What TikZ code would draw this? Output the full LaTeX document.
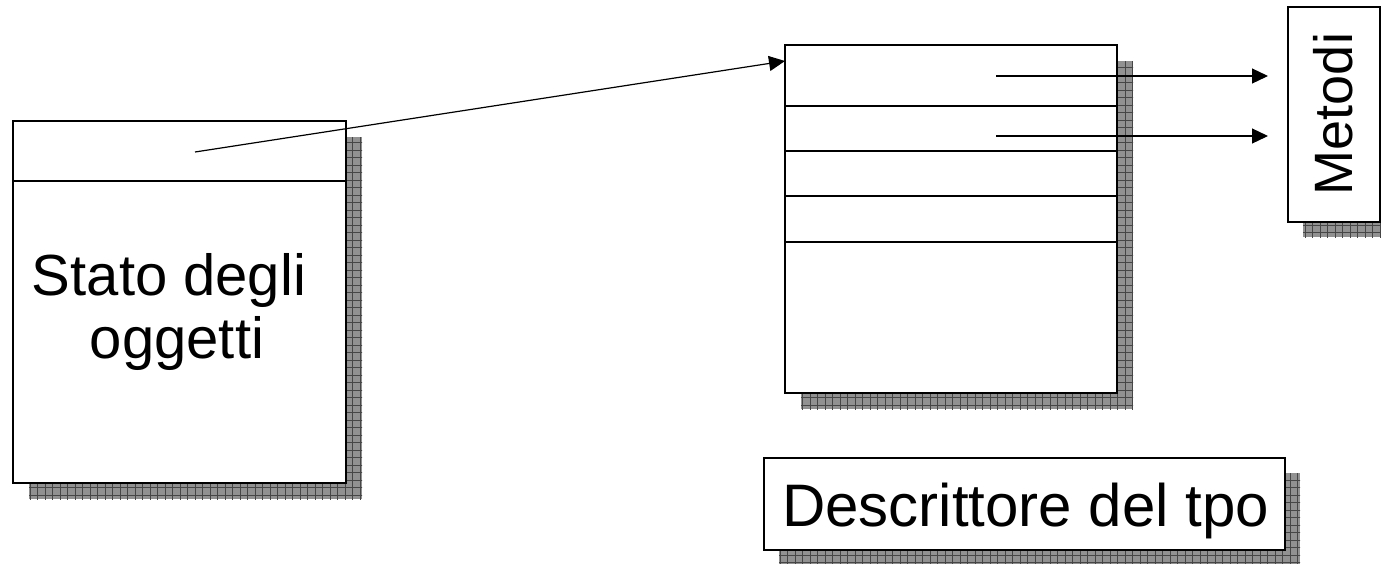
\documentclass[tikz,border=0pt]{standalone}
\usepackage{fontspec}
\setmainfont{Liberation Sans}
\usetikzlibrary{arrows.meta,backgrounds,calc}

\tikzset{
  box/.style={draw=black, line width=1.3pt, fill=white, inner sep=0pt, outer sep=0pt},
  sep/.style={draw=black, line width=1.2pt},
  link/.style={draw=black, line width=1.2pt, -{Triangle[length=16pt,width=15pt]}},
  lbl/.style={inner sep=0pt, anchor=base},
  shadowfill/.style={fill={rgb,255:red,145;green,145;blue,145}},
  shadowgrid/.style={draw={rgb,255:red,70;green,70;blue,70}, line width=1pt},
}

% gridded drop shadow behind a node
\newcommand\dropgrid[2][16]{%
  \begin{scope}[on background layer]
    \path (#2.north west) ++(#1,#1) coordinate (sa)
          (#2.south east) ++(#1,#1) coordinate (sb);
    \begin{scope}
      \clip (sa) rectangle (sb);
      \fill[shadowfill] (sa) rectangle (sb);
      \draw[shadowgrid, step=7.5pt] ($(sa)+(-8,-8)$) grid ($(sb)+(8,8)$);
    \end{scope}
  \end{scope}}

\begin{document}
\begin{tikzpicture}[x=1pt, y=-1pt]
  \useasboundingbox (0,0) rectangle (1381,563);

  % object state
  \node[box, minimum width=333pt, minimum height=362pt] (obj) at (179.5,302) {};
  \draw[sep] (obj.west |- 0,181) -- (obj.east |- 0,181);
  \node[lbl, font=\fontsize{58pt}{62pt}\selectfont] (objtxt1) at (169,295) {Stato degli};
  \node[lbl, font=\fontsize{58pt}{62pt}\selectfont] (objtxt2) at (177,358) {oggetti};
  \dropgrid{obj}

  % type descriptor table
  \node[box, minimum width=332pt, minimum height=348pt] (desc) at (951,219) {};
  \foreach \yy in {106,151,196,242}
    \draw[sep] (desc.west |- 0,\yy) -- (desc.east |- 0,\yy);
  \dropgrid{desc}

  % methods
  \node[box, minimum width=92pt, minimum height=215pt] (meth) at (1334,114.5) {};
  \node[lbl, rotate=90, font=\fontsize{54pt}{58pt}\selectfont] (methtxt) at (1352,114) {Metodi};
  \dropgrid[15]{meth}

  % caption box
  \node[box, minimum width=521pt, minimum height=92pt] (cap) at (1024.5,504) {};
  \node[lbl, font=\fontsize{60pt}{64pt}\selectfont] (captxt) at (1025.5,526) {Descrittore del tpo};
  \dropgrid[15]{cap}

  % connectors
  \coordinate (ptr) at (195,152);
  \coordinate (ptrend) at (desc.west |- 0,61);
  \draw[link] (ptr) -- (ptrend);

  \coordinate (m1) at (996,76);
  \coordinate (m2) at (996,136);
  \coordinate (m1end) at ($(meth.west |- 0,76)+(-20,0)$);
  \coordinate (m2end) at ($(meth.west |- 0,136)+(-20,0)$);
  \draw[link] (m1) -- (m1end);
  \draw[link] (m2) -- (m2end);
\end{tikzpicture}
\end{document}
